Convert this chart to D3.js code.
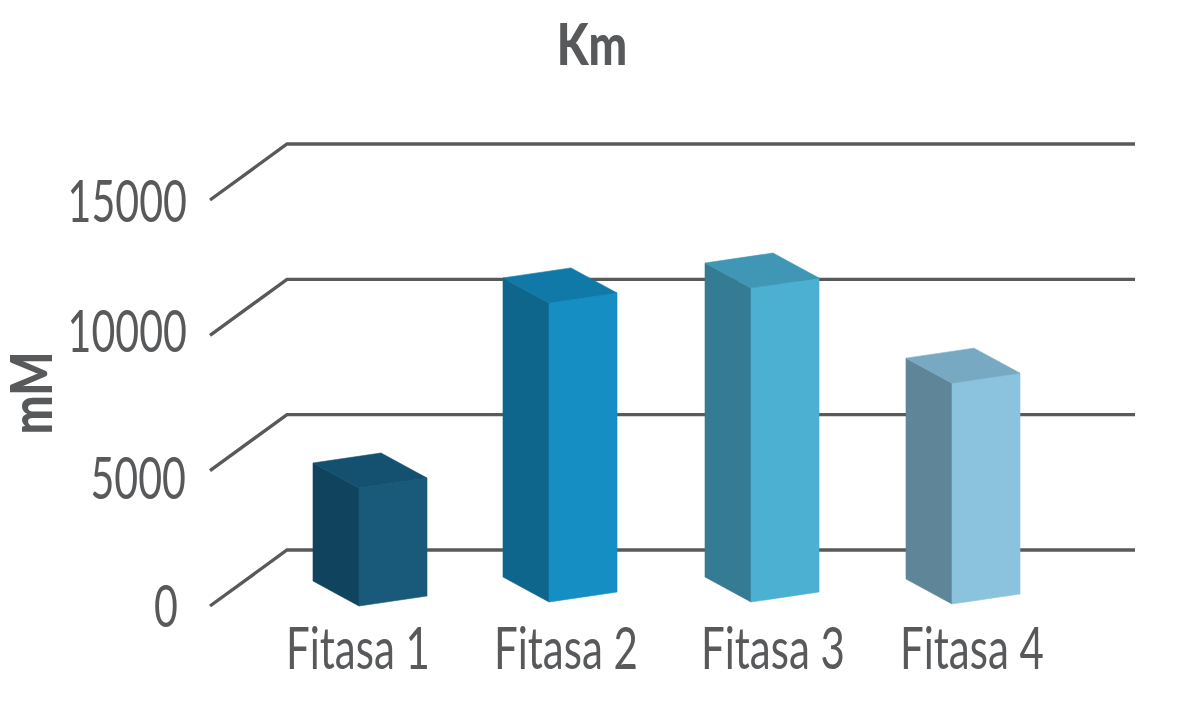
<!DOCTYPE html>
<html><head><meta charset="utf-8">
<script src="https://cdn.jsdelivr.net/npm/d3@7"></script>
<style>html,body{margin:0;padding:0;background:#fff}svg{display:block}</style>
</head><body><svg id="c" width="1200" height="724"></svg>
<script>
const categories = ["Fitasa 1","Fitasa 2","Fitasa 3","Fitasa 4"];
const values = [4360, 11050, 11600, 8160];
const yTicks = [0, 5000, 10000, 15000];
const frontColors = ["#195A7B","#158EC3","#4CB0D2","#8BC2DD"];
const sideColors = ["#10435E","#0F668C","#367B94","#5F8599"];
const topColors = ["#14506F","#1079A8","#4097B5","#78A9C2"];

const svg = d3.select("#c");
const font = "Lato,'Liberation Sans',sans-serif";
const ink = "#58595B";
const y = d3.scaleLinear().domain([0,15000]).range([550,144]);
const x = d3.scaleOrdinal().domain(categories).range([313,503,705,906]);
const baseShift = d3.scaleOrdinal().domain(categories).range([56,52,52,54]);
const labelX = d3.scaleOrdinal().domain(categories).range([358,566,773,972]);
const tickBase = d3.scaleOrdinal().domain(yTicks).range([627,499,352,222]);
const tickRight = d3.scaleOrdinal().domain(yTicks).range([178,186,187,187]);
const depthX = 46, depthY = 25, frontW = 68, frontRise = 10;

function label(px, py, txt, anchor, bold, size, squeeze, rot){
  return svg.append("text")
    .attr("transform",`translate(${px},${py}) rotate(${rot||0}) scale(${squeeze},1)`)
    .attr("text-anchor",anchor).attr("font-family",font)
    .attr("font-weight",bold?"900":"400").attr("font-size",size).attr("fill",ink).text(txt);
}

yTicks.forEach(t=>{
  const p = d3.path();
  p.moveTo(210, y(t)+56); p.lineTo(287, y(t)); p.lineTo(1135, y(t));
  svg.append("path").attr("d",p.toString()).attr("fill","none").attr("stroke",ink).attr("stroke-width",3.4);
  label(tickRight(t), tickBase(t), t, "end", false, 58, 0.71);
});

const poly = pts => pts.map(p=>p.join(",")).join(" ");
function face(g, color, pts){
  g.append("polygon").attr("fill",color).attr("stroke",color).attr("stroke-width",0.6).attr("points",poly(pts));
}
categories.forEach((c,i)=>{
  const h = y(0)-y(values[i]);
  const xl = x(c), by = y(0)+baseShift(c)-25;
  const tl = by-h;
  const g = svg.append("g");
  face(g, sideColors[i], [[xl,tl],[xl+depthX,tl+depthY],[xl+depthX,by+depthY],[xl,by]]);
  face(g, frontColors[i], [[xl+depthX,tl+depthY],[xl+depthX+frontW,tl+depthY-frontRise],[xl+depthX+frontW,by+depthY-frontRise],[xl+depthX,by+depthY]]);
  face(g, topColors[i], [[xl,tl],[xl+frontW,tl-frontRise],[xl+depthX+frontW,tl+depthY-frontRise],[xl+depthX,tl+depthY]]);
  label(labelX(c), 669, c, "middle", false, 58, 0.725);
});

label(592, 65, "Km", "middle", true, 58, 0.79);
label(52, 393, "mM", "middle", true, 58, 0.8, -90);
</script></body></html>
